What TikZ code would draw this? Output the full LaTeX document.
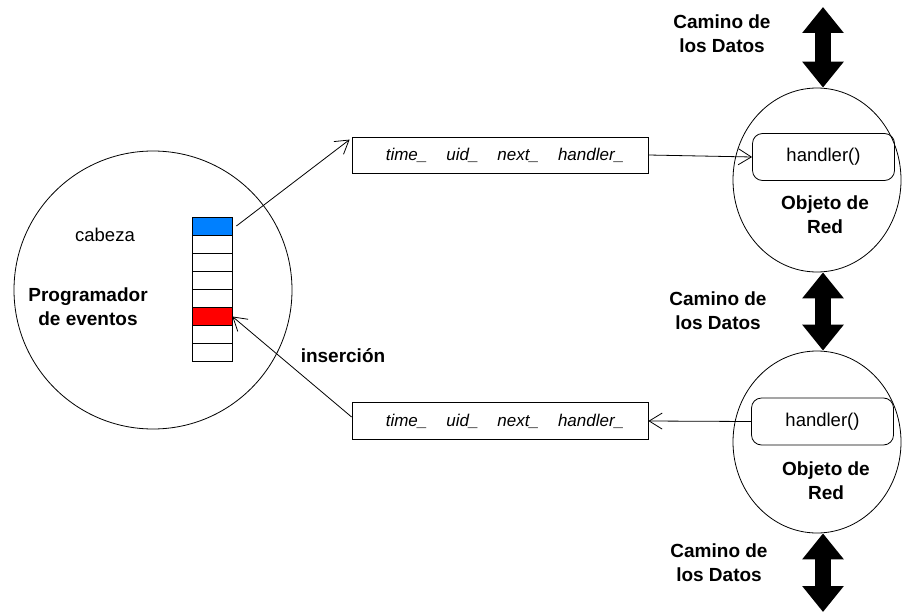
\documentclass[tikz,border=0pt]{standalone}
\usepackage{fontspec}
\setmainfont{Liberation Sans}
\usetikzlibrary{arrows.meta,shapes.geometric}

\definecolor{headblue}{RGB}{0,128,255}
\definecolor{insred}{RGB}{255,0,0}

\tikzset{
  thinline/.style={line width=0.8pt},
  ring/.style={draw, thinline, ellipse, inner sep=0pt},
  cell/.style={draw, thinline, rectangle, minimum width=40pt, minimum height=18.1pt, inner sep=0pt},
  evbox/.style={draw, thinline, rectangle, minimum width=296pt, minimum height=36pt, inner sep=0pt},
  hbox/.style={draw, thinline, rectangle, rounded corners=10pt, minimum width=142pt, minimum height=47pt, inner sep=0pt,
    font=\fontsize{18.5}{22}\selectfont},
  plain/.style={font=\fontsize{18.5}{22}\selectfont, inner sep=0pt},
  boldlbl/.style={font=\fontsize{19}{24}\selectfont\bfseries, align=center, inner sep=0pt},
  ptr/.style={thinline, -{Straight Barb[length=13pt,width=16pt,line width=0.8pt]}},
  datapath/.style={line width=16pt,
    {Triangle[width=40pt,length=26pt]}-{Triangle[width=40pt,length=26pt]}},
}

\newcommand{\evfields}{\fontsize{17}{20}\selectfont\itshape
  time\_\hspace{19pt}uid\_\hspace{19pt}next\_\hspace{19pt}handler\_}

\begin{document}
\begin{tikzpicture}[x=1pt,y=-1pt]
  \useasboundingbox (0,0) rectangle (904,615);

  % event scheduler with its queue
  \node[ring, minimum width=278pt, minimum height=278pt] (sched) at (153,290) {};
  \node[plain] (cabeza) at (105,235) {cabeza};
  \node[boldlbl] (schedlbl) at (88,307) {Programador\\de eventos};
  \foreach \i in {1,...,8} {
    \node[cell] (q\i) at (212,{226+(\i-1)*18.1}) {};
  }
  \node[cell, fill=headblue] at (q1) {};
  \node[cell, fill=insred] at (q6) {};

  % event records
  \node[evbox] (ev1) at (500,155) {};
  \node[inner sep=0pt] (ev1txt) at (505,155) {\evfields};
  \node[evbox, minimum height=37pt] (ev2) at (500,421) {};
  \node[inner sep=0pt] (ev2txt) at (505,421) {\evfields};

  % network objects
  \node[ring, minimum width=168pt, minimum height=184pt] (obj1) at (817,180) {};
  \node[hbox] (h1) at (823.5,157) {handler()};
  \node[boldlbl] (obj1lbl) at (825,215) {Objeto de\\Red};

  \node[ring, minimum width=168pt, minimum height=182pt] (obj2) at (817,442) {};
  \node[hbox] (h2) at (822.5,421.5) {handler()};
  \node[boldlbl] (obj2lbl) at (826,481) {Objeto de\\Red};

  % data path labels
  \node[boldlbl] (dp1) at (722,34) {Camino de\\los Datos};
  \node[boldlbl] (dp2) at (718,311) {Camino de\\los Datos};
  \node[boldlbl] (dp3) at (719,563) {Camino de\\los Datos};
  \node[boldlbl] (ins) at (343,356) {inserción};

  % data path arrows
  \coordinate (dtop) at (823,7);
  \coordinate (dbot) at (823,612);
  \draw[datapath] (dtop) -- (dtop |- obj1.north);
  \draw[datapath] (obj1.south -| dtop) -- (obj2.north -| dtop);
  \draw[datapath] (obj2.south -| dtop) -- (dbot);

  % pointers
  \draw[ptr] ([xshift=4pt]q1.east) -- ([xshift=-2pt,yshift=-3pt]ev1.north west);
  \draw[ptr] (ev1.east) -- (h1.west);
  \draw[ptr] (h2.west) -- (ev2.east);
  \draw[ptr] ([yshift=4pt]ev2.west) -- (q6.east);
\end{tikzpicture}
\end{document}
